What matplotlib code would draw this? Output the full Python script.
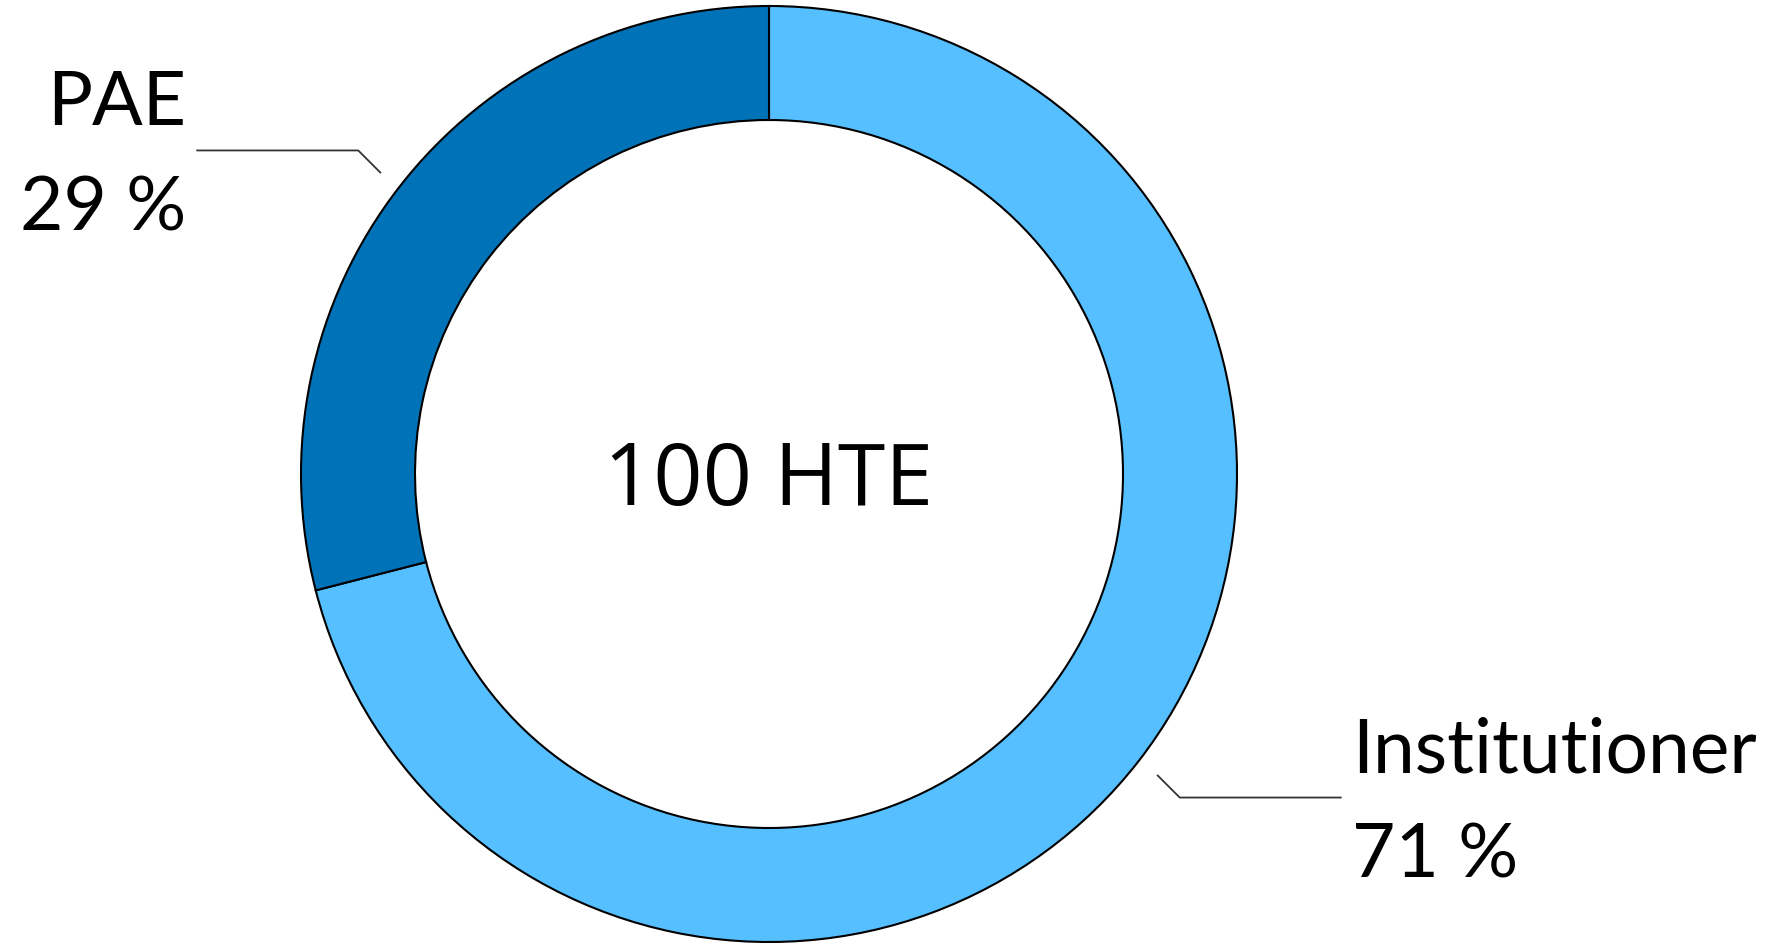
import numpy as np
import matplotlib.pyplot as plt

# data
labels = ["Institutioner", "PAE"]
shares = [71, 29]
colors = ["#56BFFF", "#0072B8"]
center_text = "100 HTE"

W, H = 1766, 951
cx, cy = 769, H - 474
r_out, r_in = 468, 354


def main():
    fig = plt.figure(figsize=(W / 100, H / 100), dpi=100)
    ax = fig.add_axes([0, 0, 1, 1])

    wedges, _ = ax.pie(shares, colors=colors, startangle=90, counterclock=False,
                       center=(cx, cy), radius=r_out, frame=True,
                       wedgeprops=dict(width=r_out - r_in, edgecolor="black", linewidth=1.5))
    ax.set_xlim(0, W)
    ax.set_ylim(0, H)
    ax.set_aspect("equal")
    ax.axis("off")

    ax.text(cx, cy - 9, center_text, ha="center", va="center",
            fontsize=62, family="Open Sans", color="black")

    # label layout: text x, alignment
    layout = {"Institutioner": (1352, "left"), "PAE": (186, "right")}
    for w, lab, val in zip(wedges, labels, shares):
        ang = np.deg2rad((w.theta1 + w.theta2) / 2)
        x1, y1 = cx + 492 * np.cos(ang), cy + 492 * np.sin(ang)
        sx = 1 if np.cos(ang) > 0 else -1
        sy = 1 if np.sin(ang) > 0 else -1
        x2, y2 = x1 + sx * 22, y1 + sy * 22
        x3 = x2 + sx * 161
        ax.plot([x1, x2, x3], [y1, y2, y2], color="#333333", lw=1.3)
        tx, ha = layout[lab]
        ax.text(tx, y2 + 25, lab, ha=ha, va="baseline", fontsize=54,
                family="Lato", color="black")
        ax.text(tx, y2 - 80, f"{val} %", ha=ha, va="baseline", fontsize=54,
                family="Lato", color="black")

    fig.savefig("out.png", dpi=100, facecolor="white")


if __name__ == "__main__":
    main()
